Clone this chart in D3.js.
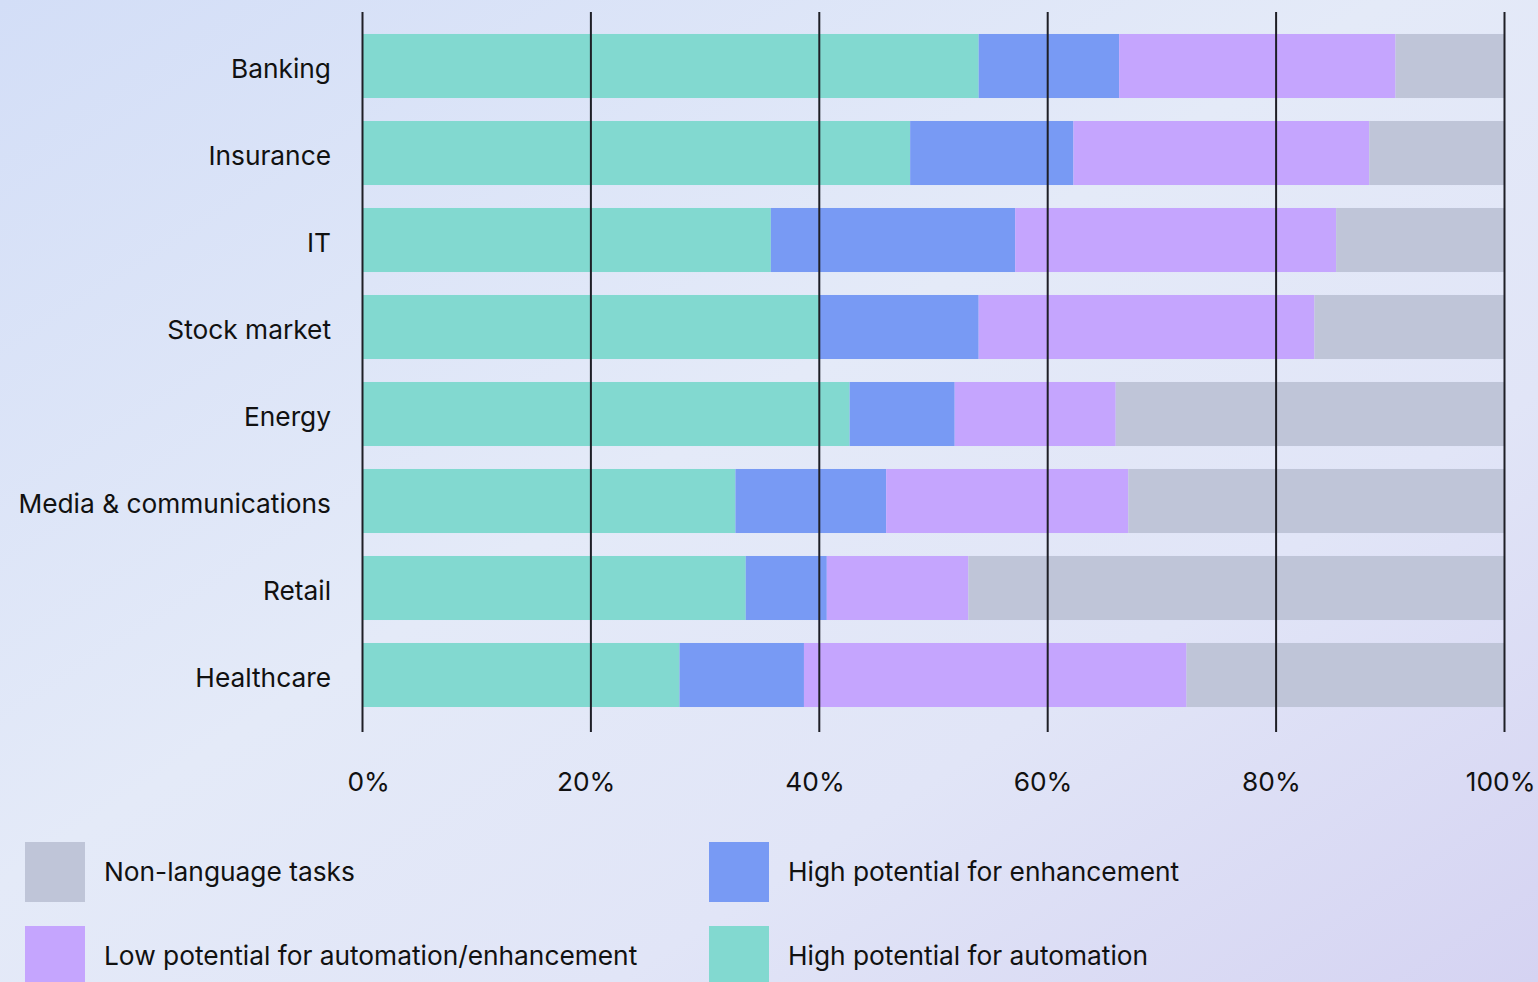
<!DOCTYPE html>
<html>
<head>
<meta charset="utf-8">
<script src="https://cdn.jsdelivr.net/npm/d3@7"></script>
<style>
  html, body { margin: 0; padding: 0; overflow: hidden; }
  svg { display: block; font-family: Inter, "Noto Sans", sans-serif; }
</style>
</head>
<body>
<svg id="chart" width="1538" height="982"></svg>
<script>
// ---- Data (percent of working hours) ----
const categories = ["Banking", "Insurance", "IT", "Stock market", "Energy", "Media & communications", "Retail", "Healthcare"];
const seriesKeys = ["automation", "enhancement", "low", "nonlang"];
const seriesNames = {
  automation: "High potential for automation",
  enhancement: "High potential for enhancement",
  low: "Low potential for automation/enhancement",
  nonlang: "Non-language tasks"
};
const automation  = [54.0, 48.0, 35.8, 40.1, 42.7, 32.7, 33.6, 27.8];
const enhancement = [12.3, 14.3, 21.4, 13.9,  9.2, 13.2,  7.1, 10.9];
const lowPotential= [24.2, 25.9, 28.1, 29.4, 14.1, 21.2, 12.4, 33.5];
const nonLanguage = [ 9.5, 11.8, 14.7, 16.6, 34.0, 32.9, 46.9, 27.8];
const tickValues = [0, 20, 40, 60, 80, 100];
const tickLabels = ["0%", "20%", "40%", "60%", "80%", "100%"];
const colors = { automation: "#82d9d0", enhancement: "#789af4", low: "#c5a5fe", nonlang: "#bfc5d8" };
const legendOrder = [["nonlang", "enhancement"], ["low", "automation"]];

const rows = categories.map((c, i) => ({
  category: c,
  automation: automation[i],
  enhancement: enhancement[i],
  low: lowPotential[i],
  nonlang: nonLanguage[i]
}));

const svg = d3.select("#chart");
const W = 1538, H = 982;
const FS = 26.3;

// background gradient
const defs = svg.append("defs");
const grad = defs.append("linearGradient").attr("id", "bg")
  .attr("x1", "0%").attr("y1", "0%").attr("x2", "100%").attr("y2", "100%");
grad.append("stop").attr("offset", "0%").attr("stop-color", "#d3def7");
grad.append("stop").attr("offset", "45%").attr("stop-color", "#e4eaf8");
grad.append("stop").attr("offset", "70%").attr("stop-color", "#e1e5f7");
grad.append("stop").attr("offset", "100%").attr("stop-color", "#d5d3f2");
svg.append("rect").attr("width", W).attr("height", H).attr("fill", "url(#bg)");

const x = d3.scaleLinear().domain([0, 100]).range([362, 1504]);
const y = d3.scaleBand().domain(categories).range([22.5, 718.5])
  .paddingInner(0.264).paddingOuter(0.132);

const stack = d3.stack().keys(seriesKeys);
const stacked = stack(rows);

// bars
const layers = svg.append("g").selectAll("g").data(stacked).join("g")
  .attr("fill", d => colors[d.key]);
layers.selectAll("rect").data(d => d).join("rect")
  .attr("x", d => x(d[0]))
  .attr("y", d => y(d.data.category))
  .attr("width", d => x(d[1]) - x(d[0]))
  .attr("height", y.bandwidth());

// category labels
svg.append("g").selectAll("text").data(categories).join("text")
  .attr("x", 331)
  .attr("y", d => y(d) + y.bandwidth() / 2)
  .attr("dy", "0.45em")
  .attr("text-anchor", "end")
  .attr("font-size", FS)
  .attr("fill", "#111")
  .text(d => d);

// gridlines / axis on top
const axisY = 732;
const axis = d3.axisBottom(x)
  .tickValues(tickValues)
  .tickFormat((d, i) => tickLabels[i])
  .tickSize(-(axisY - 12))
  .tickPadding(40);
const gAxis = svg.append("g").attr("transform", `translate(0,${axisY})`).call(axis);
gAxis.select(".domain").remove();
gAxis.selectAll(".tick line").attr("stroke", "#1e1f26").attr("stroke-width", 2);
const last = tickValues.length - 1;
gAxis.selectAll(".tick text")
  .attr("font-size", FS).attr("fill", "#111")
  .attr("font-family", "Inter, 'Noto Sans', sans-serif")
  .attr("text-anchor", (d, i) => i === last ? "end" : "start")
  .attr("x", (d, i) => i === 0 ? -15 : (i === last ? 31 : -34));

// legend
const legend = svg.append("g");
const colX = [25, 709];
const rowY = [842, 926];
legendOrder.forEach((row, ri) => {
  row.forEach((key, ci) => {
    const g = legend.append("g").attr("transform", `translate(${colX[ci]},${rowY[ri]})`);
    g.append("rect").attr("width", 60).attr("height", 60).attr("fill", colors[key]);
    g.append("text").attr("x", 79).attr("y", 30).attr("dy", "0.33em")
      .attr("font-size", FS).attr("fill", "#111").text(seriesNames[key]);
  });
});
</script>
</body>
</html>
